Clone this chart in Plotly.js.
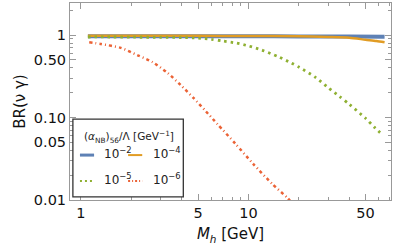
<!DOCTYPE html>
<html><head><meta charset="utf-8">
<script src="https://cdn.plot.ly/plotly-3.0.1.min.js"></script>
<style>html,body{margin:0;padding:0;background:#fff}#plot{width:399px;height:247px}</style>
</head><body><div id="plot"></div>
<script>
// Data
const massBlue   = [1.1, 2, 5, 10, 20, 40, 65];
const brBlue     = [0.97, 0.97, 0.97, 0.97, 0.965, 0.96, 0.955];
const massOrange = [1.1, 2, 5, 10, 20, 30, 40, 50, 58, 65];
const brOrange   = [0.98, 0.98, 0.98, 0.975, 0.97, 0.95, 0.93, 0.88, 0.85, 0.82];
const massGreen  = [1.1, 1.5, 2, 3, 4, 5, 6, 7, 8.5, 10, 12, 15, 18, 20, 25, 30, 35, 40, 50, 57, 63];
const brGreen    = [0.95, 0.95, 0.945, 0.94, 0.935, 0.92, 0.89, 0.85, 0.80, 0.74, 0.66, 0.55, 0.46, 0.41, 0.31, 0.23, 0.18, 0.145, 0.098, 0.075, 0.062];
const massRed    = [1.12, 1.32, 1.73, 2.18, 2.68, 3.3, 3.94, 4.71, 5.55, 6.54, 8.37, 10.7, 13.9, 17.1, 18.5];
const brRed      = [0.82, 0.78, 0.70, 0.57, 0.47, 0.346, 0.248, 0.172, 0.12, 0.083, 0.048, 0.0273, 0.0156, 0.0106, 0.0088];
const seriesNames = ["10<sup>\u22122</sup>", "10<sup>\u22124</sup>", "10<sup>\u22125</sup>", "10<sup>\u22126</sup>"];
const colors = ["#5E81B5", "#E19C24", "#8FB032", "#EB6235"];
const xTickVals = [1, 5, 10, 50];
const xTickText = ["1", "5", "10", "50"];
const xMinor = [2, 3, 4, 6, 7, 8, 9, 20, 30, 40, 60, 70];
const yTickVals = [0.01, 0.05, 0.1, 0.5, 1];
const yTickText = ["0.01", "0.05", "0.10", "0.50", "1"];
const yMinor = [0.02, 0.03, 0.04, 0.06, 0.07, 0.08, 0.09, 0.2, 0.3, 0.4, 0.6, 0.7, 0.8, 0.9, 2];

const dashes = ["solid", "solid", "2.5px,4px", "3px,3px,1px,3px"];
const widths = [4, 2.5, 2.8, 2.5];
const xs = [massBlue, massOrange, massGreen, massRed];
const ys = [brBlue, brOrange, brGreen, brRed];

const traces = xs.map((x, i) => ({
  x: x, y: ys[i], type: "scatter", mode: "lines", name: seriesNames[i],
  line: {color: colors[i], width: widths[i], dash: dashes[i], shape: "spline", smoothing: 0.7},
  showlegend: false
}));

// manual legend
const shapes = [{type: "rect", xref: "paper", yref: "paper", x0: 0.009, x1: 0.353, y0: 0.016, y1: 0.411,
  line: {color: "#333", width: 1.3}, fillcolor: "#fff", layer: "above"}];
const annotations = [{xref: "paper", yref: "paper", x: 0.036, y: 0.32, xanchor: "left", yanchor: "middle",
  text: "(<i>α</i><sub>NB</sub>)<sub>56</sub>/Λ [GeV<sup>−1</sup>]", showarrow: false,
  font: {family: "DejaVu Sans", size: 10.5, color: "#222"}}];
const legPos = [[0.031, 0.228, 0.101], [0.181, 0.228, 0.252], [0.031, 0.096, 0.101], [0.181, 0.096, 0.252]];
legPos.forEach((p, i) => {
  shapes.push({type: "line", xref: "paper", yref: "paper", x0: p[0], x1: p[0] + 0.044, y0: p[1], y1: p[1],
    line: {color: colors[i], width: i === 0 ? 3 : 2, dash: i === 2 ? "2px,3px" : (i === 3 ? "2px,2px,1px,2px" : "solid")}, layer: "above"});
  annotations.push({xref: "paper", yref: "paper", x: p[2], y: p[1] + 0.01, xanchor: "left", yanchor: "middle",
    text: seriesNames[i], showarrow: false, font: {family: "DejaVu Sans", size: 12, color: "#222"}});
});

const axisCommon = {
  showgrid: false, zeroline: false, showline: true, linecolor: "#999", linewidth: 1,
  mirror: "allticks", ticks: "inside", ticklen: 6, tickcolor: "#999", tickwidth: 1,
  tickfont: {family: "DejaVu Sans", size: 14.5, color: "#111"}
};

const layout = {
  width: 399, height: 247,
  margin: {l: 70, r: 8, t: 3, b: 47},
  paper_bgcolor: "#fff", plot_bgcolor: "#fff",
  xaxis: Object.assign({}, axisCommon, {
    type: "log", range: [Math.log10(0.86), Math.log10(71)],
    tickmode: "array", tickvals: xTickVals, ticktext: xTickText,
    minor: {tickmode: "array", tickvals: xMinor, ticks: "inside", ticklen: 3, tickcolor: "#999", showgrid: false},
    title: {text: "<i>M</i><sub><i>h</i></sub> [GeV]", font: {family: "DejaVu Sans", size: 15, color: "#111"}, standoff: 8}
  }),
  yaxis: Object.assign({}, axisCommon, {
    type: "log", range: [-2, 0.39],
    tickmode: "array", tickvals: yTickVals, ticktext: yTickText,
    minor: {tickmode: "array", tickvals: yMinor, ticks: "inside", ticklen: 3, tickcolor: "#999", showgrid: false},
    title: {text: "BR(ν γ)", font: {family: "DejaVu Sans", size: 15, color: "#111"}, standoff: 4}
  }),
  shapes: shapes, annotations: annotations, showlegend: false
};

Plotly.newPlot("plot", traces, layout, {staticPlot: true, displayModeBar: false});
</script></body></html>
